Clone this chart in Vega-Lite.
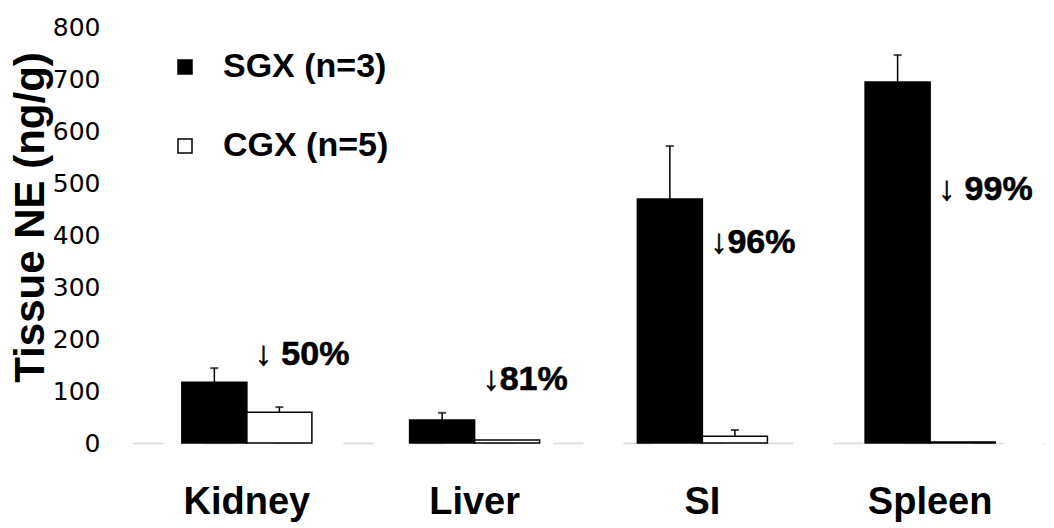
{
  "$schema": "https://vega.github.io/schema/vega-lite/v6.json",
  "width": 911,
  "height": 416,
  "autosize": {"type": "none"},
  "padding": {"left": 133, "top": 27, "right": 10, "bottom": 85},
  "background": "white",
  "config": {"view": {"stroke": null}},
  "datasets": {
    "bars": [
      {"tissue": "Kidney", "group": "SGX (n=3)", "mean": 117, "err": 144},
      {"tissue": "Kidney", "group": "CGX (n=5)", "mean": 59, "err": 69},
      {"tissue": "Liver", "group": "SGX (n=3)", "mean": 44, "err": 58},
      {"tissue": "Liver", "group": "CGX (n=5)", "mean": 6, "err": null},
      {"tissue": "SI", "group": "SGX (n=3)", "mean": 469, "err": 571},
      {"tissue": "SI", "group": "CGX (n=5)", "mean": 13, "err": 25},
      {"tissue": "Spleen", "group": "SGX (n=3)", "mean": 694, "err": 746},
      {"tissue": "Spleen", "group": "CGX (n=5)", "mean": 2, "err": null}
    ],
    "notes": [
      {"tissue": "Kidney", "label": "↓ 50%", "pos": 169},
      {"tissue": "Liver", "label": "↓81%", "pos": 121},
      {"tissue": "SI", "label": "↓96%", "pos": 385},
      {"tissue": "Spleen", "label": "↓ 99%", "pos": 487}
    ]
  },
  "layer": [
    {
      "data": {"name": "bars"},
      "mark": {"type": "bar", "stroke": "black", "strokeWidth": 1.5},
      "encoding": {
        "x": {
          "field": "tissue", "type": "nominal",
          "sort": ["Kidney", "Liver", "SI", "Spleen"],
          "scale": {"paddingInner": 0.429, "paddingOuter": 0.2145},
          "axis": {
            "title": null, "labelAngle": 0, "ticks": false, "tickSize": 0,
            "labelPadding": 40, "labelFont": "Liberation Sans", "labelFontWeight": "bold",
            "labelFontSize": 38, "labelColor": "black",
            "domain": true, "domainColor": "#d8d8d8", "domainWidth": 1.5, "domainDash": [30, 40]
          }
        },
        "xOffset": {"field": "group", "type": "nominal", "sort": ["SGX (n=3)", "CGX (n=5)"], "scale": {"paddingInner": 0, "paddingOuter": 0}},
        "y": {
          "field": "mean", "type": "quantitative",
          "scale": {"domain": [0, 800], "nice": false},
          "axis": {
            "title": "Tissue NE  (ng/g)", "titleFont": "Liberation Sans", "titleFontWeight": "bold",
            "titleFontSize": 42, "titleColor": "black", "titlePadding": 0, "titleY": 190,
            "values": [0, 100, 200, 300, 400, 500, 600, 700, 800],
            "ticks": false, "tickSize": 0, "domain": false, "grid": false,
            "labelPadding": 33, "labelFont": "DejaVu Sans", "labelFontSize": 25, "labelColor": "black"
          }
        },
        "fill": {
          "field": "group", "type": "nominal",
          "scale": {"domain": ["SGX (n=3)", "CGX (n=5)"], "range": ["black", "white"]},
          "legend": {
            "title": null, "orient": "none", "legendX": 35, "legendY": 23, "padding": 0,
            "symbolType": "square", "symbolSize": 196, "symbolStrokeColor": "black", "symbolStrokeWidth": 1.5,
            "labelFont": "Liberation Sans", "labelFontWeight": "bold", "labelFontSize": 34,
            "labelColor": "black", "labelOffset": 21, "rowPadding": 45, "labelLimit": 400
          }
        }
      }
    },
    {
      "data": {"name": "bars"},
      "transform": [{"filter": "datum.err != null"}],
      "mark": {"type": "rule", "color": "black", "strokeWidth": 1.5},
      "encoding": {
        "x": {"field": "tissue", "type": "nominal", "sort": ["Kidney", "Liver", "SI", "Spleen"]},
        "xOffset": {"field": "group", "type": "nominal", "sort": ["SGX (n=3)", "CGX (n=5)"]},
        "y": {"field": "mean", "type": "quantitative"},
        "y2": {"field": "err"}
      }
    },
    {
      "data": {"name": "bars"},
      "transform": [{"filter": "datum.err != null"}],
      "mark": {"type": "tick", "color": "black", "size": 8, "thickness": 2},
      "encoding": {
        "x": {"field": "tissue", "type": "nominal", "sort": ["Kidney", "Liver", "SI", "Spleen"]},
        "xOffset": {"field": "group", "type": "nominal", "sort": ["SGX (n=3)", "CGX (n=5)"]},
        "y": {"field": "err", "type": "quantitative"}
      }
    },
    {
      "data": {"name": "notes"},
      "mark": {"type": "text", "align": "left", "baseline": "middle", "dx": 8, "font": "Liberation Sans", "fontWeight": "bold", "fontSize": 34, "color": "black", "stroke": "black", "strokeWidth": 0.6},
      "encoding": {
        "x": {"field": "tissue", "type": "nominal", "sort": ["Kidney", "Liver", "SI", "Spleen"]},
        "y": {"field": "pos", "type": "quantitative"},
        "text": {"field": "label"}
      }
    }
  ]
}
